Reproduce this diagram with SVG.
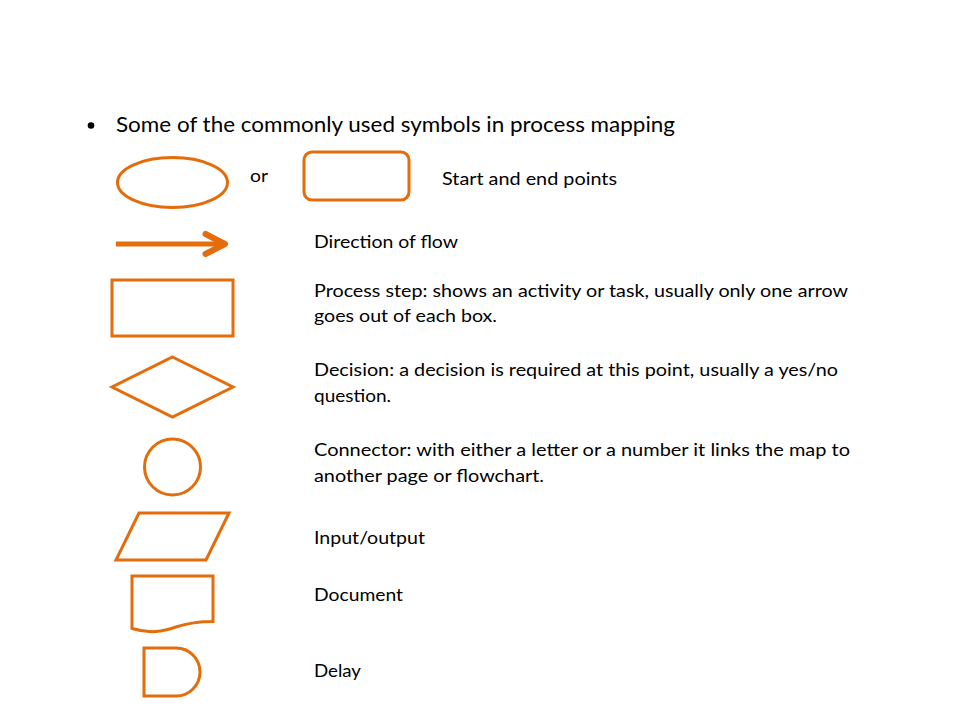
<svg xmlns="http://www.w3.org/2000/svg" width="960" height="720" viewBox="0 0 960 720">
<style>
.sym{fill:#FFFFFF;stroke:#E46C0A;stroke-width:3;stroke-linejoin:miter}
.t{font-family:Lato,"Liberation Sans",sans-serif;font-size:17px;fill:#000000}
.title{font-family:Lato,"Liberation Sans",sans-serif;font-size:21.5px;fill:#000000}
</style>
<rect x="0" y="0" width="960" height="720" fill="#FFFFFF"/>
<g id="heading">
<circle cx="91" cy="125.5" r="3.3" fill="#000000"/>
<text class="title" x="116" y="132" textLength="559" lengthAdjust="spacingAndGlyphs">Some of the commonly used symbols in process mapping</text>
</g>
<g id="terminator">
<ellipse class="sym" cx="172.5" cy="182.5" rx="55" ry="25"/>
<text class="t" x="250" y="182" textLength="18" lengthAdjust="spacingAndGlyphs">or</text>
<rect class="sym" x="304" y="152" width="105" height="48" rx="8" ry="8"/>
<text class="t" x="442" y="185" textLength="175" lengthAdjust="spacingAndGlyphs">Start and end points</text>
</g>
<g id="flow">
<line x1="116" y1="244" x2="224" y2="244" stroke="#E46C0A" stroke-width="5"/>
<polyline points="205.5,234 225,244 205.5,254" fill="none" stroke="#E46C0A" stroke-width="6" stroke-linecap="round" stroke-linejoin="round"/>
<text class="t" x="314" y="248" textLength="144" lengthAdjust="spacingAndGlyphs">Direction of flow</text>
</g>
<g id="process">
<rect class="sym" x="112" y="280" width="121" height="56"/>
<text class="t" x="314" y="297" textLength="534" lengthAdjust="spacingAndGlyphs">Process step: shows an activity or task, usually only one arrow</text>
<text class="t" x="314" y="322" textLength="183" lengthAdjust="spacingAndGlyphs">goes out of each box.</text>
</g>
<g id="decision">
<polygon class="sym" points="172.5,357 233,387 172.5,417 112,387"/>
<text class="t" x="314" y="376" textLength="524" lengthAdjust="spacingAndGlyphs">Decision: a decision is required at this point, usually a yes/no</text>
<text class="t" x="314" y="402" textLength="77" lengthAdjust="spacingAndGlyphs">question.</text>
</g>
<g id="connector">
<circle class="sym" cx="172.5" cy="467" r="28"/>
<text class="t" x="314" y="456" textLength="536" lengthAdjust="spacingAndGlyphs">Connector: with either a letter or a number it links the map to</text>
<text class="t" x="314" y="482" textLength="230" lengthAdjust="spacingAndGlyphs">another page or flowchart.</text>
</g>
<g id="input-output">
<polygon class="sym" points="139,513 229,513 206,560 116,560"/>
<text class="t" x="314" y="544" textLength="111" lengthAdjust="spacingAndGlyphs">Input/output</text>
</g>
<g id="document">
<path class="sym" d="M132,576 H213 V621.5 C199,621.5 188,623 176,627 C163,631.5 150,634 132,628.5 Z"/>
<text class="t" x="314" y="601" textLength="89" lengthAdjust="spacingAndGlyphs">Document</text>
</g>
<g id="delay">
<path class="sym" d="M144,648 H176 A24,24 0 0 1 176,696 H144 Z"/>
<text class="t" x="314" y="677" textLength="47" lengthAdjust="spacingAndGlyphs">Delay</text>
</g>
<g id="connectors"></g>
</svg>
